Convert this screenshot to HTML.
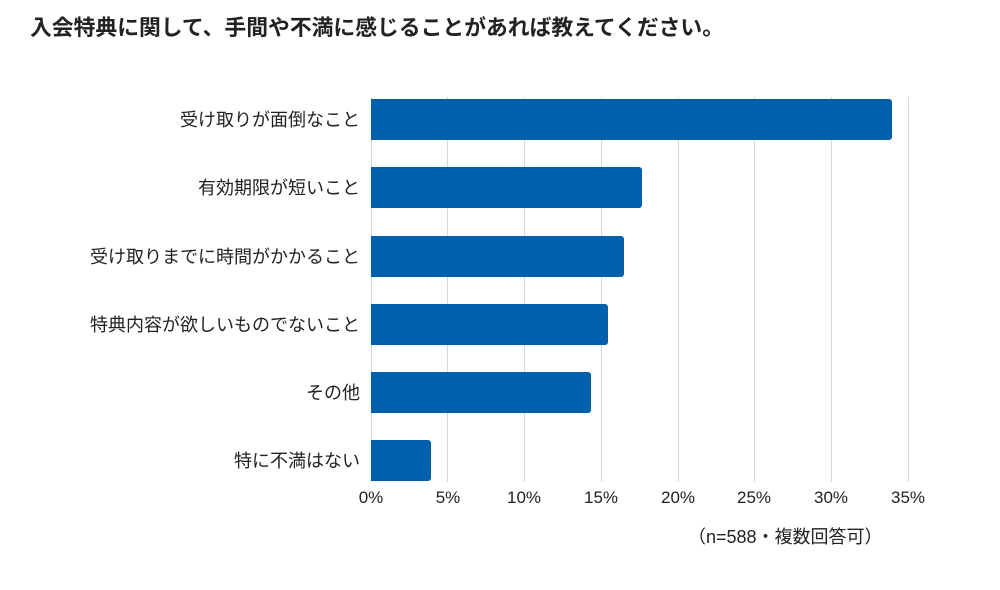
<!DOCTYPE html>
<html><head><meta charset="utf-8"><style>
html,body{margin:0;padding:0;background:#fff;}
body{width:1000px;height:590px;position:relative;overflow:hidden;font-family:"Liberation Sans","Noto Sans CJK JP",sans-serif;color:#222;}
.t{position:absolute;left:30px;top:13px;font-size:21.8px;font-weight:bold;white-space:nowrap;line-height:30px;}
.g{position:absolute;top:97px;height:385px;width:1px;background:#d6d6d6;}
.b{position:absolute;left:371px;height:41px;background:#0060ad;border-radius:0 3px 3px 0;}
.l{position:absolute;right:640px;font-size:18px;white-space:nowrap;line-height:24px;}
.x{position:absolute;top:486px;font-size:17px;width:60px;margin-left:-30px;text-align:center;line-height:24px;}
.n{position:absolute;left:688px;top:525px;font-size:18px;white-space:nowrap;line-height:24px;}
</style></head><body>
<div class="t">入会特典に関して、手間や不満に感じることがあれば教えてください。</div>
<div class="g" style="left:371px"></div>
<div class="g" style="left:447px"></div>
<div class="g" style="left:524px"></div>
<div class="g" style="left:601px"></div>
<div class="g" style="left:678px"></div>
<div class="g" style="left:754px"></div>
<div class="g" style="left:831px"></div>
<div class="g" style="left:908px"></div>
<div class="b" style="top:99px;width:521px"></div>
<div class="b" style="top:167px;width:271px"></div>
<div class="b" style="top:236px;width:253px"></div>
<div class="b" style="top:304px;width:237px"></div>
<div class="b" style="top:372px;width:220px"></div>
<div class="b" style="top:440px;width:60px"></div>
<div class="l" style="top:108px">受け取りが面倒なこと</div>
<div class="l" style="top:176px">有効期限が短いこと</div>
<div class="l" style="top:245px">受け取りまでに時間がかかること</div>
<div class="l" style="top:313px">特典内容が欲しいものでないこと</div>
<div class="l" style="top:381px">その他</div>
<div class="l" style="top:449px">特に不満はない</div>
<div class="x" style="left:371px">0%</div>
<div class="x" style="left:448px">5%</div>
<div class="x" style="left:524px">10%</div>
<div class="x" style="left:601px">15%</div>
<div class="x" style="left:678px">20%</div>
<div class="x" style="left:754px">25%</div>
<div class="x" style="left:831px">30%</div>
<div class="x" style="left:908px">35%</div>
<div class="n">（n=588・複数回答可）</div>
</body></html>
